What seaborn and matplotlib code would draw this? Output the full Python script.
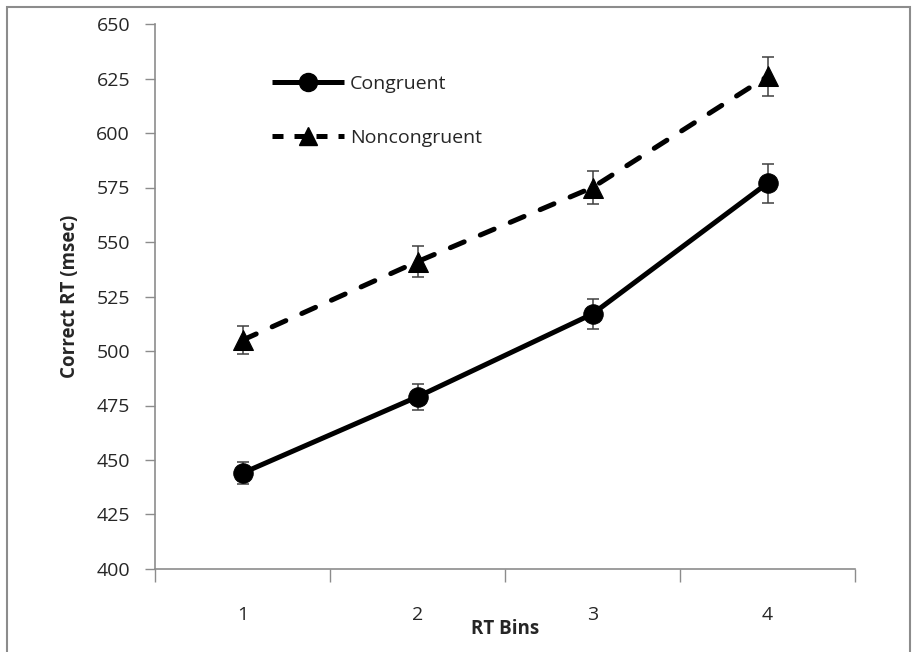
import matplotlib.pyplot as plt
import matplotlib as mpl
import pandas as pd
import seaborn as sns
from matplotlib.lines import Line2D
from matplotlib.patches import Rectangle

bins = [1, 2, 3, 4]
congruent = [444, 479, 517, 577]
congruent_se = [5, 6, 7, 9]
noncongruent = [505, 541, 575, 626]
noncongruent_se = [6.5, 7, 7.5, 9]

df = pd.DataFrame({'bin': bins * 2,
                   'rt': congruent + noncongruent,
                   'se': congruent_se + noncongruent_se,
                   'cond': ['Congruent'] * 4 + ['Noncongruent'] * 4})

sns.set_style('white')
plt.rcParams['font.family'] = ['Open Sans', 'DejaVu Sans']

fig = plt.figure(figsize=(9.19, 6.52), dpi=100)
ax = fig.add_axes([155 / 919, 1 - 569 / 652, 700 / 919, 545 / 652])

# excel-like outer chart border
fig.add_artist(Rectangle((7 / 919, -0.05), 903 / 919, 1.0 - 7 / 652 + 0.05,
                         transform=fig.transFigure, fill=False, edgecolor='#8c8c8c', lw=1.5))

styles = {'Congruent': dict(marker='o', ms=14, ls='-'),
          'Noncongruent': dict(marker='^', ms=14, ls=(0, (3, 3.5)))}
for cond in ['Congruent', 'Noncongruent']:
    sub = df[df['cond'] == cond]
    ax.errorbar(sub['bin'], sub['rt'], yerr=sub['se'], fmt='none', ecolor='#404040',
                elinewidth=1.1, capsize=4, capthick=1.1, zorder=3)
    sns.lineplot(ax=ax, data=sub, x='bin', y='rt', color='black', lw=3.6,
                 marker=styles[cond]['marker'], markersize=styles[cond]['ms'],
                 markeredgecolor='black', linestyle=styles[cond]['ls'],
                 dash_capstyle='round', solid_capstyle='round', zorder=4)

ax.set_xlim(0.5, 4.5)
ax.set_ylim(400, 650)
ax.set_yticks(range(400, 651, 25))
ax.set_xticks([0.5, 1.5, 2.5, 3.5, 4.5])
ax.set_xticklabels([])
ax.set_xticks(bins, minor=True)
ax.set_xticklabels([str(b) for b in bins], minor=True)
ax.tick_params(axis='x', which='major', length=9, width=1, color='#8c8c8c', direction='out', bottom=True)
ax.tick_params(axis='x', which='minor', length=0, pad=27, labelsize=14)
ax.tick_params(axis='y', which='major', length=7, width=1, color='#8c8c8c', direction='out',
               left=True, pad=11, labelsize=14)

for s in ['top', 'right']:
    ax.spines[s].set_visible(False)
for s in ['left', 'bottom']:
    ax.spines[s].set_color('#8c8c8c')
    ax.spines[s].set_linewidth(1.2)

ax.set_xlabel('RT Bins', fontsize=13.5, fontweight='bold', labelpad=-4)
ax.set_ylabel('Correct RT (msec)', fontsize=13.5, fontweight='bold', labelpad=12)

handles = [Line2D([], [], color='black', lw=3.6, marker='o', ms=13, solid_capstyle='butt'),
           Line2D([], [], color='black', lw=3.6, marker='^', ms=13, ls=(0, (2.2, 2.2)))]
ax.legend(handles, ['Congruent', 'Noncongruent'], loc='upper left', bbox_to_anchor=(0.167, 0.906),
          frameon=False, fontsize=14, handlelength=3.7, handletextpad=0.3, labelspacing=1.85,
          borderpad=0, borderaxespad=0)

plt.savefig('out.png', dpi=100)
